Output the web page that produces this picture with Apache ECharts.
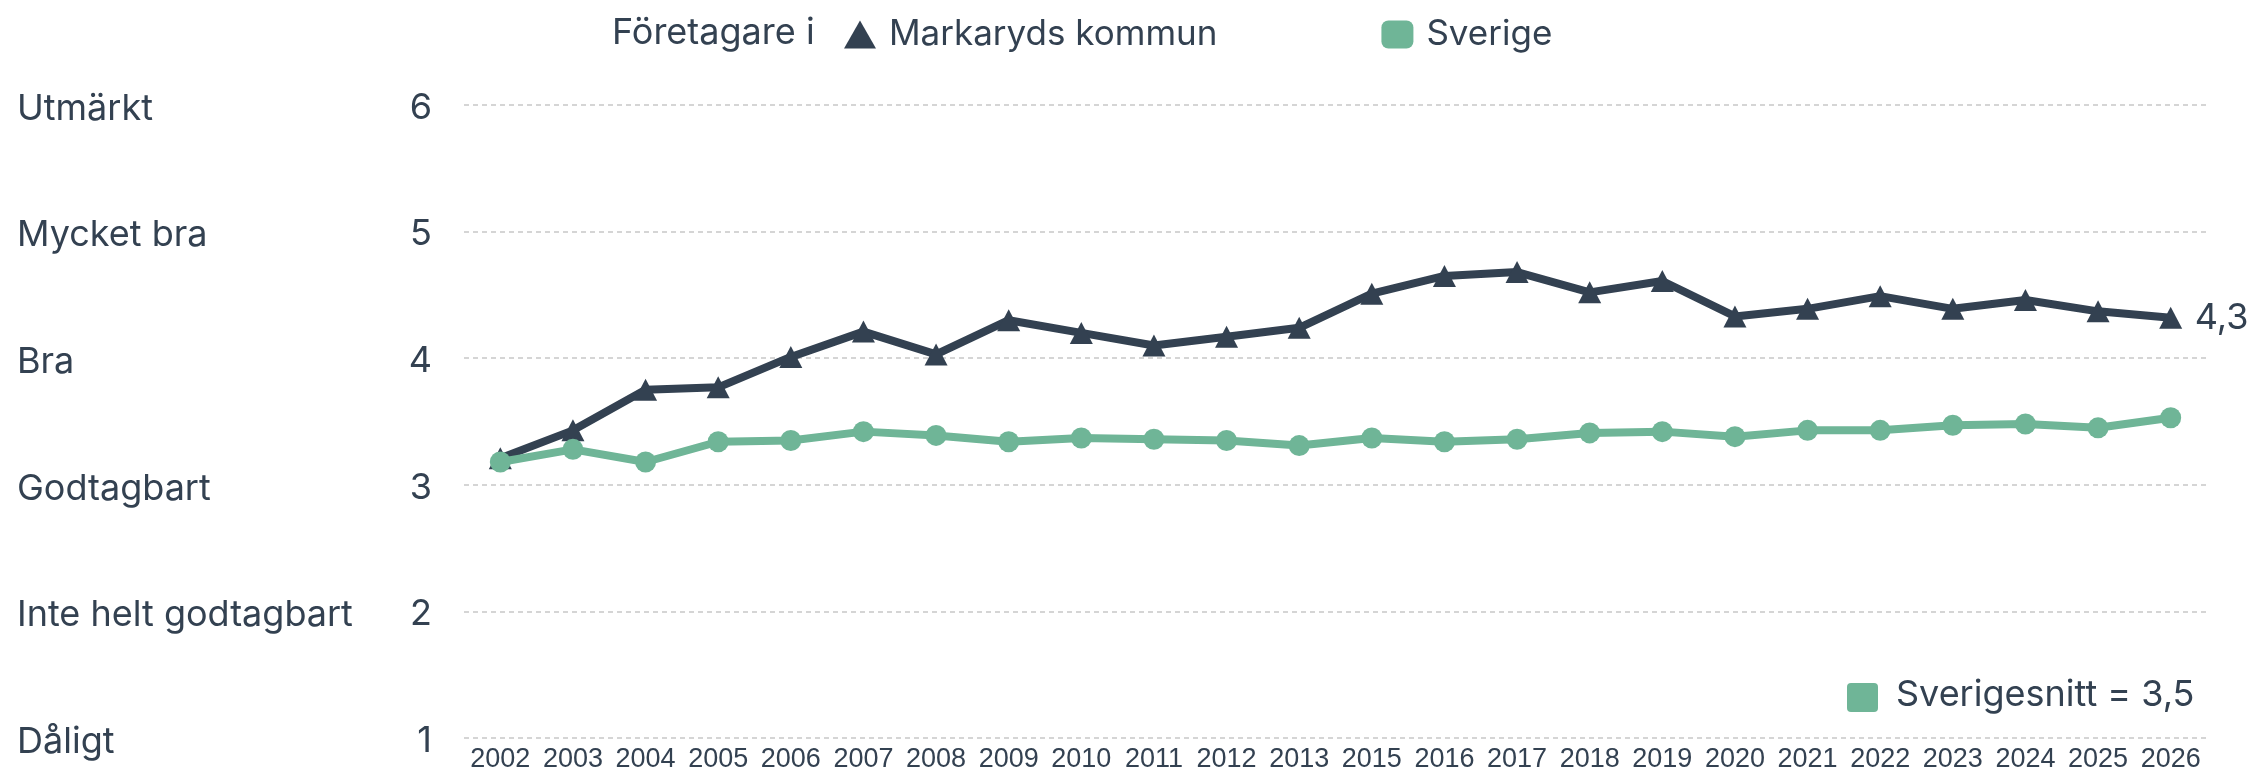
<!DOCTYPE html>
<html>
<head>
<meta charset="utf-8">
<script src="https://cdn.jsdelivr.net/npm/echarts@6/dist/echarts.min.js"></script>
<style>
  html, body { margin: 0; padding: 0; background: #fff; }
  #chart { width: 2257px; height: 781px; }
</style>
</head>
<body>
<div id="chart"></div>
<script>
// data
const years = ["2002", "2003", "2004", "2005", "2006", "2007", "2008", "2009", "2010", "2011", "2012", "2013",
  "2015", "2016", "2017", "2018", "2019", "2020", "2021", "2022", "2023", "2024", "2025", "2026"];
const markaryd = [3.21, 3.43, 3.75, 3.77, 4.01, 4.21, 4.03, 4.30, 4.20, 4.10, 4.17, 4.24,
  4.51, 4.65, 4.68, 4.52, 4.61, 4.33, 4.39, 4.49, 4.39, 4.46, 4.37, 4.32];
const sverige = [3.18, 3.28, 3.18, 3.34, 3.35, 3.42, 3.39, 3.34, 3.37, 3.36, 3.35, 3.31,
  3.37, 3.34, 3.36, 3.41, 3.42, 3.38, 3.43, 3.43, 3.47, 3.48, 3.45, 3.53];
const gradeLabels = ["", "Dåligt", "Inte helt godtagbart", "Godtagbart", "Bra", "Mycket bra", "Utmärkt"];
const sverigesnitt = "3,5";

const dark = "#334151";
const green = "#6fb597";
const font = "Inter";

const chart = echarts.init(document.getElementById("chart"));
const option = {
  animation: false,
  title: {
    text: "Företagare i",
    left: 607,
    top: 10,
    textStyle: { fontFamily: font, fontSize: 36, fontWeight: "normal", color: dark },
  },
  legend: {
    left: 839,
    top: 12,
    itemWidth: 32,
    itemHeight: 28,
    itemGap: 164,
    textStyle: { fontFamily: font, fontSize: 35, color: dark, padding: [0, 0, 0, 8] },
    data: [
      { name: "Markaryds kommun", icon: "triangle" },
      { name: "Sverige", icon: "roundRect" },
    ],
  },
  grid: { left: 464, right: 50, top: 105, bottom: 43 },
  xAxis: {
    type: "category",
    data: years,
    boundaryGap: true,
    axisLine: { show: false },
    axisTick: { show: false },
    axisLabel: { fontFamily: "Liberation Sans", fontSize: 27, color: dark, margin: 8, interval: 0 },
  },
  yAxis: [
    {
      type: "value",
      min: 1,
      max: 6,
      interval: 1,
      position: "left",
      axisLine: { show: false },
      axisTick: { show: false },
      axisLabel: {
        fontFamily: font, fontSize: 36, color: dark, margin: 32,
        verticalAlign: "top", lineHeight: 6,
      },
      splitLine: { lineStyle: { color: "#c8c8c8", width: 1.5, type: [5, 4] } },
    },
    {
      type: "value",
      min: 1,
      max: 6,
      interval: 1,
      position: "left",
      axisLine: { show: false },
      axisTick: { show: false },
      splitLine: { show: false },
      axisLabel: {
        fontFamily: font, fontSize: 36, color: dark, align: "left", margin: 447,
        verticalAlign: "top", lineHeight: 8,
        formatter: (v) => gradeLabels[v],
      },
    },
  ],
  graphic: [
    { type: "rect", left: 1847, top: 683, shape: { width: 31, height: 29, r: 4 }, style: { fill: green } },
    {
      type: "text", left: 1896, top: 677,
      style: { text: "Sverigesnitt = " + sverigesnitt, fill: dark, font: "36px " + font },
    },
  ],
  series: [
    {
      name: "Markaryds kommun",
      type: "line",
      data: markaryd,
      symbol: "triangle",
      symbolSize: [23, 22],
      itemStyle: { color: dark },
      lineStyle: { color: dark, width: 8 },
      endLabel: {
        show: true,
        distance: 24,
        fontFamily: font,
        fontSize: 36,
        color: dark,
        formatter: (p) => p.value.toFixed(1).replace(".", ","),
      },
    },
    {
      name: "Sverige",
      type: "line",
      data: sverige,
      symbol: "circle",
      symbolSize: 21,
      itemStyle: { color: green },
      lineStyle: { color: green, width: 8 },
    },
  ],
};
chart.setOption(option);
</script>
</body>
</html>
